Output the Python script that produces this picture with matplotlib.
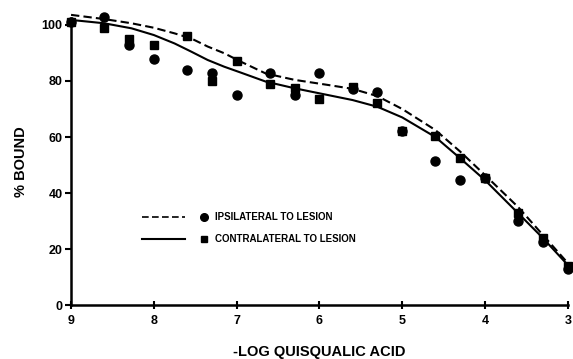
import matplotlib
matplotlib.use("Agg")
import matplotlib.pyplot as plt

plt.rcParams['font.family'] = ['Liberation Sans', 'DejaVu Sans']
plt.rcParams['font.weight'] = 'bold'

# -log concentration of quisqualic acid
conc = [9, 8.6, 8.3, 8, 7.6, 7.3, 7, 6.6, 6.3, 6, 5.6, 5.3, 5, 4.6, 4.3, 4, 3.6, 3.3, 3]

# measured points (% bound)
ipsi = [101, 103, 93, 88, 84, 83, 75, 83, 75, 83, 77, 76, 62, 51.5, 44.5, 45.5, 30, 22.5, 13]
contra = [101, 99, 95, 93, 96, 80, 87, 79, 77.5, 73.5, 78, 72, 62, 60.5, 52.5, 45.5, 33, 24, 14]

# fitted curves
ipsi_fit_x = [9, 8.6, 8.27, 8, 7.75, 7.55, 7.35, 7.15, 6.95, 6.65, 6.3, 5.9, 5.6, 5.3, 5.0, 4.6, 4.3, 4, 3.6, 3.3, 3]
ipsi_fit = [103.6, 102.1, 100.6, 99, 97, 95.2, 92.3, 89.9, 86.9, 82.7, 80.4, 78.6, 77.2, 74.6, 70, 62.5, 54.8, 46.4, 35, 25, 15]
contra_fit_x = [9, 8.6, 8.27, 8, 7.75, 7.55, 7.35, 7.15, 6.95, 6.65, 6.3, 5.9, 5.6, 5.3, 5.0, 4.6, 4.3, 4, 3.6, 3.3, 3]
contra_fit = [101.8, 100.6, 98.8, 96.4, 93.4, 90.5, 87.5, 85.1, 83, 79.8, 77.4, 75, 73.2, 70.8, 67, 60, 52.4, 44.6, 32.8, 23.9, 14.3]

fig = plt.figure(figsize=(5.73, 3.59), dpi=100)
ax = fig.add_axes([0.124, 0.150, 0.867, 0.800])

ax.plot(ipsi_fit_x, ipsi_fit, color='black', linestyle=(0, (4, 2)), linewidth=1.5, clip_on=False)
ax.plot(contra_fit_x, contra_fit, color='black', linestyle='-', linewidth=1.5, clip_on=False)
ax.plot(conc, ipsi, 'o', color='black', markersize=6.5, clip_on=False)
ax.plot(conc, contra, 's', color='black', markersize=6, clip_on=False)

ax.set_xlim(9, 3)
ax.set_ylim(0, 102.5)
ax.set_xticks([9, 8, 7, 6, 5, 4, 3])
ax.set_yticks([0, 20, 40, 60, 80, 100])

for side in ['top', 'right']:
    ax.spines[side].set_visible(False)
for side in ['left', 'bottom']:
    ax.spines[side].set_linewidth(1.8)

ax.tick_params(axis='y', direction='out', length=4, width=1.5, labelsize=9, pad=2)
ax.tick_params(axis='x', direction='inout', length=6, width=1.5, labelsize=9, pad=4)

ax.set_ylabel('% BOUND', fontsize=10.5, fontweight='bold', labelpad=10)
ax.set_xlabel('-LOG QUISQUALIC ACID', fontsize=10.5, fontweight='bold', labelpad=13)

# legend drawn by hand as in the original
ax.plot([8.14, 7.62], [31.5, 31.5], color='black', linestyle=(0, (4, 2)), linewidth=1.2)
ax.plot([8.14, 7.62], [23.5, 23.5], color='black', linestyle='-', linewidth=1.5)
ax.plot([7.4], [31.5], 'o', color='black', markersize=5.5)
ax.plot([7.4], [23.5], 's', color='black', markersize=5)
ax.text(7.26, 31.5, 'IPSILATERAL TO LESION', fontsize=7, fontweight='bold', va='center')
ax.text(7.26, 23.5, 'CONTRALATERAL TO LESION', fontsize=7, fontweight='bold', va='center')

fig.savefig('out.png', dpi=100)
